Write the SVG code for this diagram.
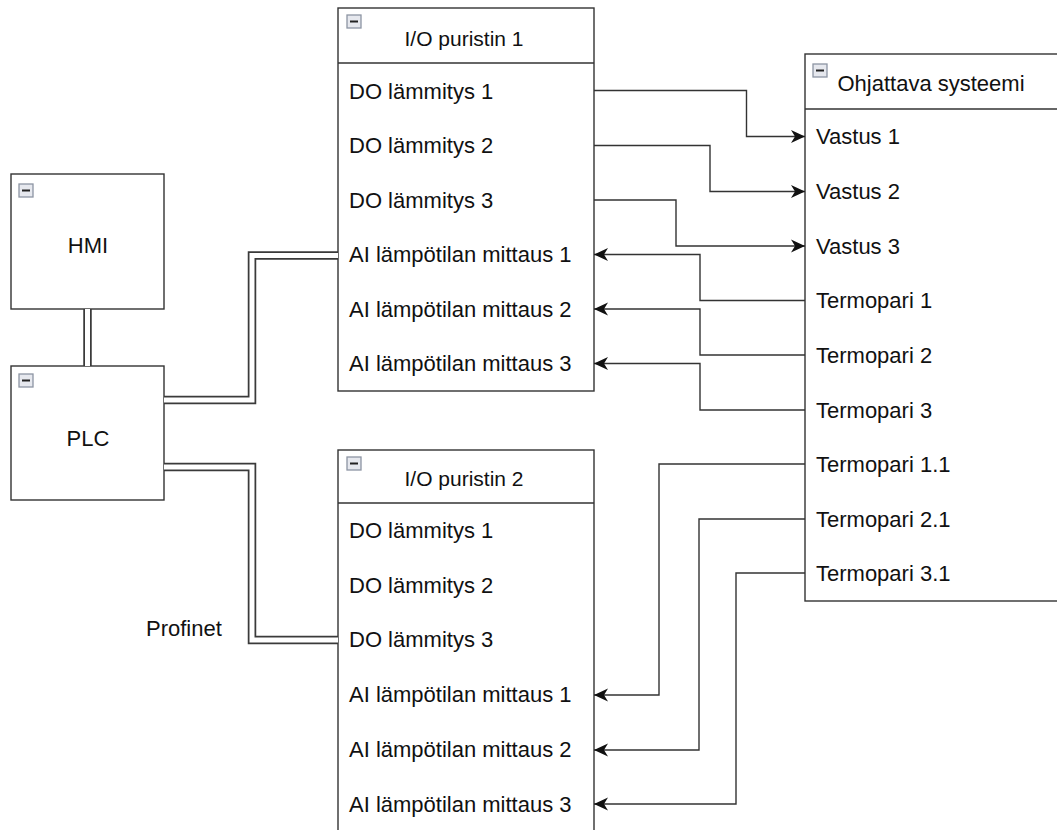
<svg xmlns="http://www.w3.org/2000/svg" width="1057" height="830" viewBox="0 0 1057 830">
<style>
.box{fill:#fff;stroke:#333;stroke-width:1.4}
.div{stroke:#333;stroke-width:1.4}
.t{font-family:"Liberation Sans",Arial,sans-serif;font-size:22px;fill:#111}
.h{font-family:"Liberation Sans",Arial,sans-serif;font-size:21px;fill:#111;text-anchor:middle}
.c{text-anchor:middle}
.ico{fill:#e6e8ee;stroke:#8d94a3;stroke-width:1.3}
.icm{stroke:#222;stroke-width:2}
.conn{fill:none;stroke:#333;stroke-width:1.4}
.lo{fill:none;stroke:#3a3a3a;stroke-width:8.5;stroke-linejoin:miter}
.li{fill:none;stroke:#fff;stroke-width:5;stroke-linejoin:miter}
</style>
<defs>
<marker id="arr" markerUnits="userSpaceOnUse" markerWidth="16" markerHeight="16" viewBox="0 0 16 16" refX="14" refY="8" orient="auto">
<path d="M0,1.5 L14,8 L0,14.5 L4,8 Z" fill="#111"/>
</marker>
<g id="icon"><rect class="ico" x="0" y="0" width="14" height="13"/><line class="icm" x1="3" y1="6.5" x2="11" y2="6.5"/></g>
</defs>
<rect width="1057" height="830" fill="#fff"/>

<g id="HMI">
<rect class="box" x="11" y="174" width="153" height="135"/>
<use href="#icon" x="19" y="184"/>
<text class="t c" x="88" y="253">HMI</text>
</g>

<g id="PLC">
<rect class="box" x="11" y="366" width="153" height="134"/>
<use href="#icon" x="19" y="374"/>
<text class="t c" x="88" y="446">PLC</text>
</g>

<g id="IO1">
<rect class="box" x="338" y="8" width="256" height="383"/>
<line class="div" x1="338" y1="63" x2="594" y2="63"/>
<use href="#icon" x="347" y="15"/>
<text class="h" x="464" y="45.5">I/O puristin 1</text>
<text class="t" x="349" y="98.5">DO lämmitys 1</text>
<text class="t" x="349" y="153">DO lämmitys 2</text>
<text class="t" x="349" y="207.5">DO lämmitys 3</text>
<text class="t" x="349" y="262">AI lämpötilan mittaus 1</text>
<text class="t" x="349" y="316.5">AI lämpötilan mittaus 2</text>
<text class="t" x="349" y="371">AI lämpötilan mittaus 3</text>
</g>

<g id="IO2">
<rect class="box" x="338" y="450" width="256" height="400"/>
<line class="div" x1="338" y1="503" x2="594" y2="503"/>
<use href="#icon" x="347" y="457"/>
<text class="h" x="464" y="485.5">I/O puristin 2</text>
<text class="t" x="349" y="537.5">DO lämmitys 1</text>
<text class="t" x="349" y="592.5">DO lämmitys 2</text>
<text class="t" x="349" y="647">DO lämmitys 3</text>
<text class="t" x="349" y="702">AI lämpötilan mittaus 1</text>
<text class="t" x="349" y="757">AI lämpötilan mittaus 2</text>
<text class="t" x="349" y="811.5">AI lämpötilan mittaus 3</text>
</g>

<g id="Ohjattava">
<rect class="box" x="805" y="54" width="270" height="547"/>
<line class="div" x1="805" y1="109" x2="1075" y2="109"/>
<use href="#icon" x="813" y="64"/>
<text class="t c" x="931" y="90.5">Ohjattava systeemi</text>
<text class="t" x="816" y="144">Vastus 1</text>
<text class="t" x="816" y="199">Vastus 2</text>
<text class="t" x="816" y="253.5">Vastus 3</text>
<text class="t" x="816" y="308">Termopari 1</text>
<text class="t" x="816" y="362.5">Termopari 2</text>
<text class="t" x="816" y="417.5">Termopari 3</text>
<text class="t" x="816" y="471.5">Termopari 1.1</text>
<text class="t" x="816" y="526.5">Termopari 2.1</text>
<text class="t" x="816" y="580.5">Termopari 3.1</text>
</g>

<g id="connectors">
<path class="lo" d="M87.5,309 V366"/><path class="li" d="M87.5,309 V366"/>
<path class="lo" d="M164,400 H252 V255.5 H338"/><path class="li" d="M164,400 H252 V255.5 H338"/>
<path class="lo" d="M164,467 H252 V640 H338"/><path class="li" d="M164,467 H252 V640 H338"/>
<path class="conn" marker-end="url(#arr)" d="M594,90.5 H746.5 V136.5 H805"/>
<path class="conn" marker-end="url(#arr)" d="M594,145.5 H710 V191.5 H805"/>
<path class="conn" marker-end="url(#arr)" d="M594,200 H676 V246 H805"/>
<path class="conn" marker-end="url(#arr)" d="M805,300.5 H700 V254.5 H594"/>
<path class="conn" marker-end="url(#arr)" d="M805,355 H700 V309 H594"/>
<path class="conn" marker-end="url(#arr)" d="M805,410 H700 V363.5 H594"/>
<path class="conn" marker-end="url(#arr)" d="M805,464 H659 V695 H594"/>
<path class="conn" marker-end="url(#arr)" d="M805,519 H699 V750 H594"/>
<path class="conn" marker-end="url(#arr)" d="M805,573 H736 V804 H594"/>
<text class="t" x="146" y="636">Profinet</text>
</g>
</svg>
